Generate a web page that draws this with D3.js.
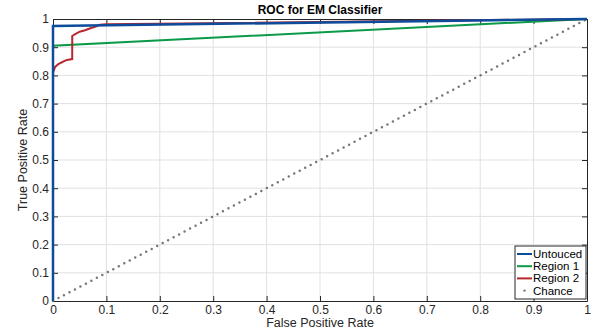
<!DOCTYPE html>
<html>
<head>
<meta charset="utf-8">
<script src="https://cdn.jsdelivr.net/npm/d3@7"></script>
<style>
  body { margin: 0; background: #fff; }
  text { font-family: "Liberation Sans", Arial, sans-serif; }
</style>
</head>
<body>
<div id="chart"></div>
<script>
const ticks = [0, 0.1, 0.2, 0.3, 0.4, 0.5, 0.6, 0.7, 0.8, 0.9, 1]
const tickLabels = ["0", "0.1", "0.2", "0.3", "0.4", "0.5", "0.6", "0.7", "0.8", "0.9", "1"]

const untoucedX = [0, 0, 1]
const untoucedY = [0, 0.975, 1]
const region1X = [0, 0, 1]
const region1Y = [0, 0.905, 1]
const region2X = [0, 0, 0.004, 0.01, 0.02, 0.026, 0.036, 0.036, 0.04, 0.05, 0.06, 0.07, 0.08, 0.088, 0.1, 1]
const region2Y = [0, 0.81, 0.83, 0.84, 0.85, 0.855, 0.858, 0.94, 0.945, 0.955, 0.96, 0.967, 0.973, 0.98, 0.981, 1]
const chanceX = [0, 1]
const chanceY = [0, 1]

const seriesNames = ["Untouced", "Region 1", "Region 2", "Chance"]
const colors = ["#0d4c9b", "#0b9a48", "#b5282e", "#777777"]

const width = 597, height = 332
const margin = {top: 19, right: 10, bottom: 31, left: 53}

const svg = d3.select("#chart").append("svg")
  .attr("width", width)
  .attr("height", height)

const x = d3.scaleLinear().domain([0, 1]).range([margin.left, width - margin.right])
const y = d3.scaleLinear().domain([0, 1]).range([height - margin.bottom, margin.top])

// grid
svg.append("g").selectAll("line").data(ticks.slice(1, -1)).join("line")
  .attr("x1", d => x(d)).attr("x2", d => x(d))
  .attr("y1", y(0)).attr("y2", y(1))
  .attr("stroke", "#e1e1e1").attr("stroke-width", 1)
svg.append("g").selectAll("line").data(ticks.slice(1, -1)).join("line")
  .attr("y1", d => y(d)).attr("y2", d => y(d))
  .attr("x1", x(0)).attr("x2", x(1))
  .attr("stroke", "#e1e1e1").attr("stroke-width", 1)

// axes (ticks inward)
const fmt = d => tickLabels[ticks.indexOf(d)]
const axColor = "#262626"
const xAxis = svg.append("g").attr("transform", `translate(0,${y(0)})`)
  .call(d3.axisBottom(x).tickValues(ticks).tickFormat(fmt).tickSizeInner(-5).tickSizeOuter(0).tickPadding(4))
const xTop = svg.append("g").attr("transform", `translate(0,${y(1)})`)
  .call(d3.axisTop(x).tickValues(ticks).tickFormat("").tickSizeInner(-5).tickSizeOuter(0))
const yAxis = svg.append("g").attr("transform", `translate(${x(0)},0)`)
  .call(d3.axisLeft(y).tickValues(ticks).tickFormat(fmt).tickSizeInner(-5).tickSizeOuter(0).tickPadding(4))
const yRight = svg.append("g").attr("transform", `translate(${x(1)},0)`)
  .call(d3.axisRight(y).tickValues(ticks).tickFormat("").tickSizeInner(-5).tickSizeOuter(0))

for (const g of [xAxis, xTop, yAxis, yRight]) {
  g.selectAll("path").attr("stroke", axColor)
  g.selectAll("line").attr("stroke", axColor)
  g.selectAll("text").attr("fill", axColor).style("font-size", "12px")
}

const line = d3.line().x(d => x(d[0])).y(d => y(d[1]))
const zip = (a, b) => a.map((v, i) => [v, b[i]])

// chance
svg.append("path")
  .datum(zip(chanceX, chanceY))
  .attr("d", line)
  .attr("fill", "none")
  .attr("stroke", colors[3])
  .attr("stroke-width", 2.5)
  .attr("stroke-linecap", "round")
  .attr("stroke-dasharray", "0 6.2")

svg.append("path").datum(zip(region1X, region1Y)).attr("d", line)
  .attr("fill", "none").attr("stroke", colors[1]).attr("stroke-width", 2)
svg.append("path").datum(zip(region2X, region2Y)).attr("d", line)
  .attr("fill", "none").attr("stroke", colors[2]).attr("stroke-width", 2)
svg.append("path").datum(zip(untoucedX, untoucedY)).attr("d", line)
  .attr("fill", "none").attr("stroke", colors[0]).attr("stroke-width", 2.5)

// title and labels
svg.append("text")
  .attr("x", (x(0) + x(1)) / 2).attr("y", 14)
  .attr("text-anchor", "middle")
  .style("font-size", "12px").style("font-weight", "bold")
  .attr("fill", "#000")
  .text("ROC for EM Classifier")

svg.append("text")
  .attr("x", (x(0) + x(1)) / 2).attr("y", 327)
  .attr("text-anchor", "middle")
  .style("font-size", "12.5px")
  .attr("fill", axColor)
  .text("False Positive Rate")

svg.append("text")
  .attr("transform", `translate(27,${(y(0) + y(1)) / 2}) rotate(-90)`)
  .attr("text-anchor", "middle")
  .style("font-size", "12.5px")
  .attr("fill", axColor)
  .text("True Positive Rate")

// legend
const lg = svg.append("g").attr("transform", "translate(515,246)")
lg.append("rect").attr("width", 71).attr("height", 53)
  .attr("fill", "#fff").attr("stroke", "#262626").attr("stroke-width", 1)
seriesNames.forEach((name, i) => {
  const yy = 8 + i * 12.2
  if (i < 3) {
    lg.append("line").attr("x1", 2).attr("x2", 17).attr("y1", yy).attr("y2", yy)
      .attr("stroke", colors[i]).attr("stroke-width", 2)
  } else {
    lg.append("circle").attr("cx", 9.5).attr("cy", yy).attr("r", 1.2).attr("fill", colors[i])
  }
  lg.append("text").attr("x", 18).attr("y", yy + 4)
    .style("font-size", "11.5px").attr("fill", "#000").text(name)
})
</script>
</body>
</html>
